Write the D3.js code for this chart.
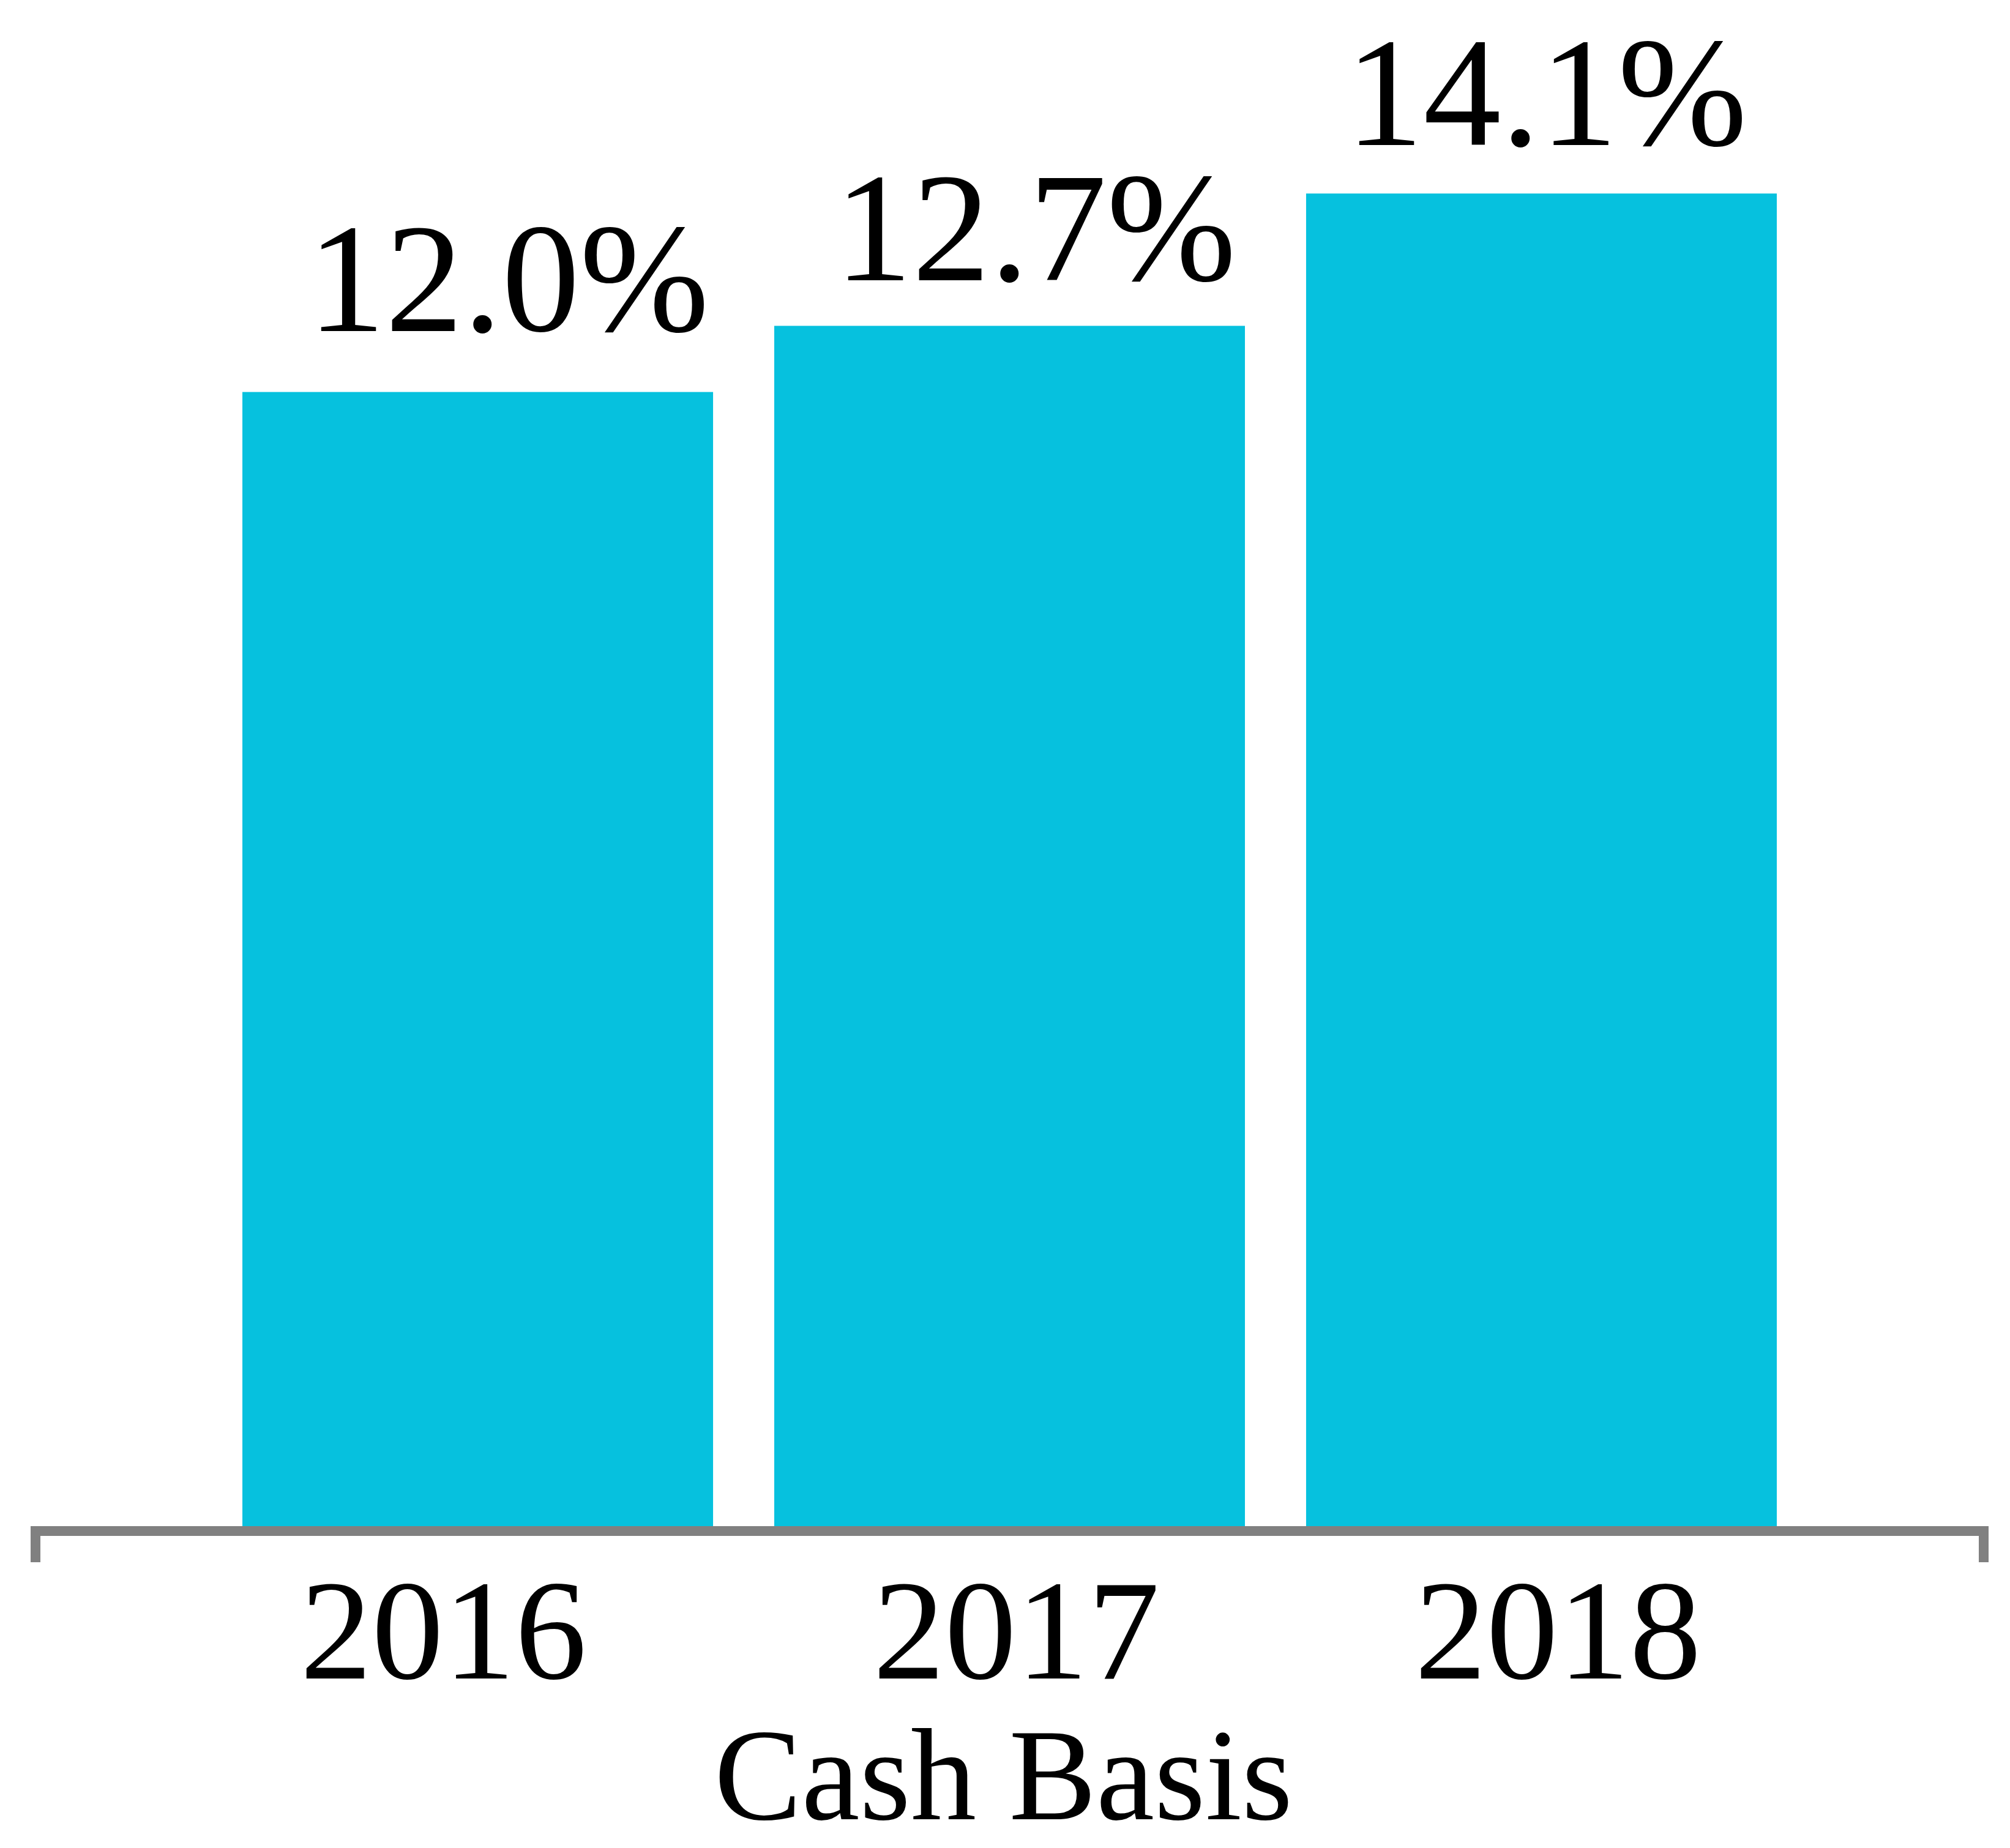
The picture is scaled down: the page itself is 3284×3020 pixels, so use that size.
<!DOCTYPE html>
<html>
<head>
<meta charset="utf-8">
<script src="https://cdn.jsdelivr.net/npm/d3@7"></script>
<style>
  html, body { margin: 0; padding: 0; background: #ffffff; }
  svg { display: block; }
</style>
</head>
<body>
<script>
// ---- data ----
const years = ["2016", "2017", "2018"];
const values = [12.0, 12.7, 14.1];
const valueLabels = ["12.0%", "12.7%", "14.1%"];
const axisTitle = "Cash Basis";

// ---- layout (label nudges, not data) ----
const valueLabelDx = [50, 42, 8];
const valueLabelGap = [100, 74, 79];
const tickLabelDx = [-56, 11, 27];

const W = 3284, H = 3020;
const baseY = 2494;
const axisY = 2502;
const font = "'Liberation Serif', 'Times New Roman', Times, serif";

const svg = d3.select("body").append("svg")
  .attr("width", W).attr("height", H)
  .attr("viewBox", `0 0 ${W} ${H}`);

const x = d3.scaleBand()
  .domain(years)
  .range([58, 3241])
  .paddingInner(0.115)
  .paddingOuter(0.389);

const y = d3.scaleLinear()
  .domain([0, 15])
  .range([baseY, baseY - 15 * 154.45]);

// bars
svg.append("g").selectAll("rect")
  .data(years)
  .join("rect")
  .attr("x", d => x(d))
  .attr("width", x.bandwidth())
  .attr("y", (d, i) => y(values[i]))
  .attr("height", (d, i) => y(0) - y(values[i]))
  .attr("fill", "#06C1DE");

// axis line with end ticks
const [r0, r1] = x.range();
svg.append("path")
  .attr("d", `M${r0},${axisY + 51}V${axisY}H${r1}V${axisY + 51}`)
  .attr("fill", "none")
  .attr("stroke", "#808080")
  .attr("stroke-width", 16)
  .attr("stroke-linejoin", "miter")
  .attr("stroke-linecap", "butt");

// value labels
svg.append("g").selectAll("text")
  .data(years)
  .join("text")
  .attr("x", (d, i) => x(d) + x.bandwidth() / 2 + valueLabelDx[i])
  .attr("y", (d, i) => y(values[i]) - valueLabelGap[i])
  .attr("text-anchor", "middle")
  .attr("font-family", font)
  .attr("font-size", 254)
  .attr("fill", "#000")
  .text((d, i) => valueLabels[i]);

// category labels
svg.append("g").selectAll("text")
  .data(years)
  .join("text")
  .attr("x", (d, i) => x(d) + x.bandwidth() / 2 + tickLabelDx[i])
  .attr("y", 2743)
  .attr("text-anchor", "middle")
  .attr("font-family", font)
  .attr("font-size", 234)
  .attr("fill", "#000")
  .text(d => d);

// axis title
svg.append("text")
  .attr("x", (r0 + r1) / 2 - 10)
  .attr("y", 2973)
  .attr("text-anchor", "middle")
  .attr("font-family", font)
  .attr("font-size", 214)
  .attr("fill", "#000")
  .text(axisTitle);
</script>
</body>
</html>
